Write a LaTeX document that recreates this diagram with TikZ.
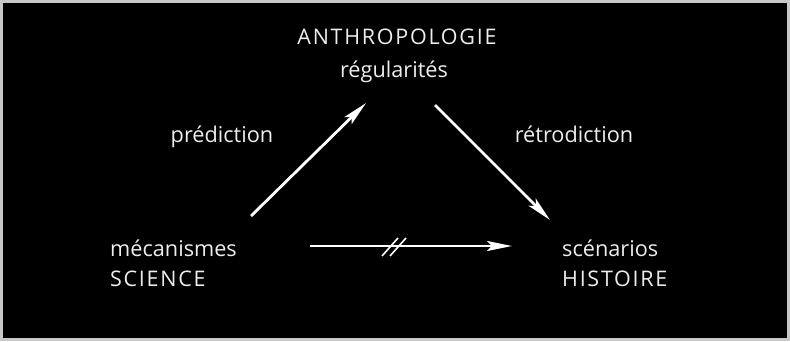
\documentclass[tikz,border=0pt]{standalone}
\usepackage{fontspec}
\setmainfont{Open Sans}
\usetikzlibrary{arrows.meta}
\definecolor{frame}{HTML}{C8C8C8}
\definecolor{txt}{HTML}{EDEDED}
\begin{document}
\begin{tikzpicture}[x=1pt,y=-1pt,
  lbl/.style={inner sep=0pt,text=txt,font=\fontsize{21.7}{24}\selectfont},
  caplbl/.style={inner sep=0pt,text=txt,font=\fontsize{21.5}{24}\selectfont\addfontfeature{LetterSpace=8}},
  arr/.style={draw=white,line width=2.8pt,-{Stealth[length=25pt,width=10pt,inset=5pt]}},
  slash/.style={draw=white,line width=1.6pt}]
\useasboundingbox (0,0) rectangle (790,341);
\fill[frame] (0,0) rectangle (790,341);
\fill[black] (3,3) rectangle (787,338);
\node[caplbl,anchor=base] (anth) at (397,44) {ANTHROPOLOGIE};
\node[lbl,anchor=base] (reg) at (394,77) {régularités};
\node[lbl,anchor=base] (pred) at (222,142) {prédiction};
\node[lbl,anchor=base] (retro) at (574,142) {rétrodiction};
\node[lbl,anchor=base west] (meca) at (110,256) {mécanismes};
\node[caplbl,anchor=base west] (sci) at (110,286) {SCIENCE};
\node[lbl,anchor=base west] (scen) at (562,256) {scénarios};
\node[caplbl,anchor=base west] (hist) at (562,286) {HISTOIRE};
\coordinate (a1) at (251,216);
\coordinate (a2) at (366,103);
\coordinate (b1) at (435,105);
\coordinate (b2) at (550,220);
\coordinate (c1) at (310,246);
\coordinate (c2) at (512,246);
\draw[arr] (a1) -- (a2);
\draw[arr] (b1) -- (b2);
\draw[arr] (c1) -- (c2);
\coordinate (s1a) at (382,256);
\coordinate (s1b) at (398,238);
\coordinate (s2a) at (390,256);
\coordinate (s2b) at (406,238);
\draw[slash] (s1a) -- (s1b);
\draw[slash] (s2a) -- (s2b);
\end{tikzpicture}
\end{document}
